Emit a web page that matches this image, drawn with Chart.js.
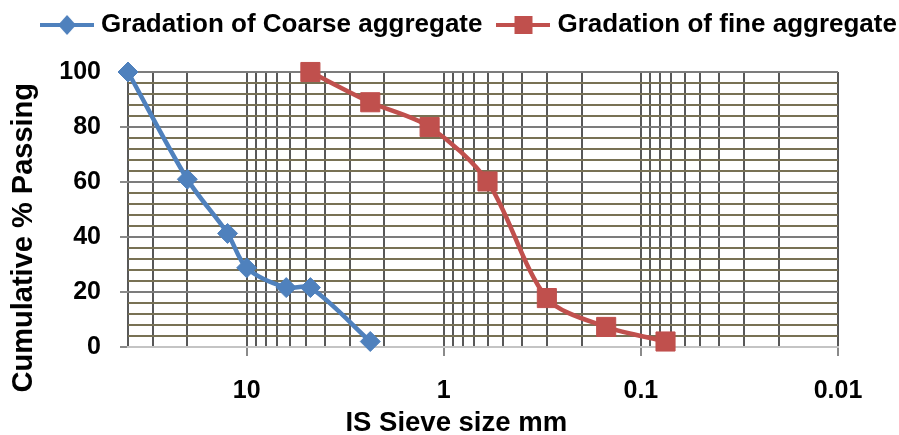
<!DOCTYPE html>
<html>
<head>
<meta charset="utf-8">
<script src="https://cdn.jsdelivr.net/npm/chart.js@4.4.1/dist/chart.umd.min.js"></script>
<style>
html,body{margin:0;padding:0;background:#fff;}
canvas{display:block;}
</style>
</head>
<body>
<canvas id="c" width="899" height="435"></canvas>
<script>
// ---- data ----
const coarseSizes = [40, 20, 12.5, 10, 6.3, 4.75, 2.36];
const coarsePassing = [100, 61, 41.3, 28.8, 21.6, 21.6, 2];
const fineSizes = [4.75, 2.36, 1.18, 0.6, 0.3, 0.15, 0.075];
const finePassing = [100, 89, 80, 60.2, 17.8, 7.3, 2];
const seriesNames = ['Gradation of Coarse aggregate', 'Gradation of fine aggregate'];
const xTickValues = [10, 1, 0.1, 0.01];
const xTickLabels = ['10', '1', '0.1', '0.01'];
const xGridDecades = [0.01, 0.1, 1, 10];
const xGridMultipliers = [1, 2, 3, 4, 5, 6, 7, 8, 9];
const yTickLabels = [0, 20, 40, 60, 80, 100];
const xTitle = 'IS Sieve size mm';
const yTitle = 'Cumulative % Passing';

const xGridValues = [];
xGridDecades.forEach(d => xGridMultipliers.forEach(m => {
  const v = parseFloat((m * d).toPrecision(6));
  if (v <= 40) xGridValues.push(v);
}));
xGridValues.push(40);

const BLUE = '#4f81bd', RED = '#c0504d';
const FONT = '"Liberation Sans", Arial, sans-serif';

function legendIcon(color, shape) {
  const c = document.createElement('canvas');
  c.width = 54; c.height = 22;
  const g = c.getContext('2d');
  g.strokeStyle = color; g.lineWidth = 4;
  g.beginPath(); g.moveTo(0, 11); g.lineTo(54, 11); g.stroke();
  g.fillStyle = color;
  if (shape === 'diamond') {
    g.beginPath(); g.moveTo(27, 1); g.lineTo(36, 11); g.lineTo(27, 21); g.lineTo(18, 11); g.closePath(); g.fill();
  } else {
    g.fillRect(18, 2, 18, 18);
  }
  return c;
}
const icons = [legendIcon(BLUE, 'diamond'), legendIcon(RED, 'square')];

function isMajorX(v) { return xTickValues.some(t => Math.abs(v - t) / t < 1e-6); }

const layoutFix = {
  id: 'layoutFix',
  beforeLayout(chart) {
    const lg = chart.legend;
    if (lg && !lg.__patched) {
      const f = lg.fit;
      lg.fit = function () { f.call(this); this.height = 72; };
      lg.__patched = true;
    }
  },
  afterLayout(chart) {
    const lg = chart.legend;
    if (lg) {
      lg.left = 23; lg.right = 920; lg.width = lg.right - lg.left;
      lg.top = -8; lg.bottom = 64; lg.height = 72;
    }
  }
};

new Chart(document.getElementById('c'), {
  type: 'line',
  data: {
    datasets: [
      {
        label: seriesNames[0],
        data: coarseSizes.map((x, i) => ({ x, y: coarsePassing[i] })),
        borderColor: BLUE, backgroundColor: BLUE,
        borderWidth: 4.5, tension: 0.3,
        pointStyle: 'rectRot', pointRadius: 10, pointHoverRadius: 10,
        pointBorderWidth: 1, pointBorderColor: BLUE, pointBackgroundColor: BLUE,
        clip: false
      },
      {
        label: seriesNames[1],
        data: fineSizes.map((x, i) => ({ x, y: finePassing[i] })),
        borderColor: RED, backgroundColor: RED,
        borderWidth: 4.5, tension: 0.3,
        pointStyle: 'rect', pointRadius: 13.5, pointHoverRadius: 13.5,
        pointBorderWidth: 1, pointBorderColor: RED, pointBackgroundColor: RED,
        clip: false
      }
    ]
  },
  options: {
    responsive: false,
    animation: false,
    devicePixelRatio: 1,
    layout: { padding: { left: 0, right: 0, top: 0, bottom: 0 } },
    plugins: {
      tooltip: { enabled: false },
      legend: {
        position: 'top',
        labels: {
          usePointStyle: true,
          pointStyleWidth: 42,
          padding: 20,
          color: '#000',
          font: { family: FONT, size: 26, weight: 'bold' },
          generateLabels(chart) {
            const items = Chart.defaults.plugins.legend.labels.generateLabels(chart);
            items.forEach((it, i) => { it.pointStyle = icons[i]; });
            return items;
          }
        }
      }
    },
    scales: {
      x: {
        type: 'logarithmic',
        reverse: true,
        min: 0.01, max: 40,
        afterBuildTicks(s) { s.ticks = xGridValues.map(v => ({ value: v })); },
        afterFit(s) { s.height = 88; },
        ticks: {
          autoSkip: false, maxRotation: 0, minRotation: 0,
          color: '#000', padding: 20,
          font: { family: FONT, size: 25, weight: 'bold' },
          callback(v) {
            const i = xTickValues.findIndex(t => Math.abs(v - t) / t < 1e-6);
            return i >= 0 ? xTickLabels[i] : '';
          }
        },
        grid: {
          color: '#585858', lineWidth: 2,
          tickLength: 9, tickWidth: 2,
          tickColor: ctx => (ctx.tick && isMajorX(ctx.tick.value)) ? '#8a8a8a' : 'rgba(0,0,0,0)'
        },
        border: { display: true, color: '#c4c4c4', width: 2 },
        title: {
          display: true,
          text: xTitle + '       ',
          color: '#000',
          font: { family: FONT, size: 27.5, weight: 'bold', lineHeight: 0.8 },
          padding: { top: 0, bottom: 1 }
        }
      },
      y: {
        min: 0, max: 100,
        afterFit(s) { s.width = 128; },
        ticks: {
          stepSize: 4, autoSkip: false,
          color: '#000', padding: 19,
          font: { family: FONT, size: 25, weight: 'bold' },
          callback(v) { return yTickLabels.includes(v) ? String(v) : ''; }
        },
        grid: {
          lineWidth: 2,
          color: ctx => {
            const v = ctx.tick ? ctx.tick.value : 1;
            if (v === 0) return '#c4c4c4';
            return v % 20 === 0 ? '#7c7c7c' : '#787154';
          },
          tickLength: 8, tickWidth: 2,
          tickColor: ctx => (ctx.tick && ctx.tick.value % 20 === 0) ? '#8a8a8a' : 'rgba(0,0,0,0)'
        },
        border: { display: false },
        title: {
          display: true,
          text: yTitle + '       ',
          color: '#000',
          font: { family: FONT, size: 29, weight: 'bold', lineHeight: 1 },
          padding: { top: 9, bottom: 0 }
        }
      },
      ySpacer: {
        type: 'linear',
        position: 'right',
        display: true,
        min: 0, max: 100,
        afterFit(s) { s.width = 61; },
        ticks: { display: false },
        grid: { display: false, drawOnChartArea: false, drawTicks: false },
        border: { display: false },
        title: { display: false }
      }
    }
  },
  plugins: [layoutFix]
});
</script>
</body>
</html>
